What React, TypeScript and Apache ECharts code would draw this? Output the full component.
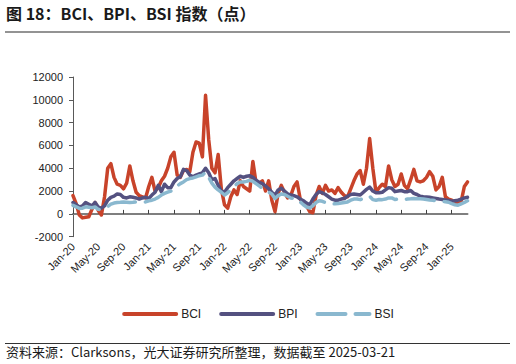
import React, { useEffect, useRef } from "react";
import * as echarts from "echarts";

const MONTHS = ["Jan", "Feb", "Mar", "Apr", "May", "Jun", "Jul", "Aug", "Sep", "Oct", "Nov", "Dec"];

// half-monthly dates from 2020-01-01 to 2025-03-16
const categories: string[] = [];
for (let i = 0; i < 126; i++) {
  const mi = Math.floor(i / 2);
  const y = 2020 + Math.floor(mi / 12);
  const m = (mi % 12) + 1;
  categories.push(`${y}-${m < 10 ? "0" + m : m}-${i % 2 ? "16" : "01"}`);
}

const bci = [
  1600, 900, -100, -350, -300, -250, 400, 1000, 300, -100,
  1500, 4000, 4400, 3200, 2600, 2500, 2200, 2700, 4200, 2900,
  1900, 1600, 1500, 1400, 2400, 3200, 2000, 2300, 2900, 3300,
  4000, 5000, 5400, 3400, 3200, 3800, 3900, 3700, 5400, 6300,
  6200, 5000, 10400, 6500, 4000, 3600, 5200, 2200, 800, 500,
  1500, 2100, 1700, 2900, 2400, 2200, 2000, 4600, 2700, 2700,
  2900, 2000, 2900, 1200, 200, 1800, 2500, 1900, 1400, 1600,
  2400, 2800, 1300, 900, 700, 200, 100, 1600, 2400, 1800,
  2500, 2000, 2100, 1800, 2300, 1900, 1600, 1500, 2200, 2900,
  3500, 3800, 2600, 4000, 6600, 4000, 1900, 2300, 2600, 2400,
  4200, 3000, 2400, 2600, 3500, 2500, 2200, 3000, 3900, 2900,
  2800, 2900, 3200, 3700, 3300, 2100, 2400, 3200, 1500, 1300,
  1200, 1000, 900, 1100, 2400, 2800,
];

const bpi = [
  1000, 800, 600, 700, 1000, 850, 700, 1000, 600, 500,
  700, 1200, 1450, 1550, 1750, 1700, 1450, 1400, 1500, 1450,
  1400, 1300, 1400, 1450, 1350, 1650, 1900, 2500, 1950, 2600,
  2300, 2300, 2800, 3100, 3250, 3900, 3800, 3400, 3250, 3400,
  3500, 3600, 4000, 3600, 3000, 3100, 2500, 2000, 1900, 2300,
  2600, 2900, 3100, 3300, 3200, 3300, 3350, 3200, 2950, 2750,
  2650, 2450, 2200, 1900, 1650, 2100, 2250, 2000, 1750, 1650,
  1600, 1500, 1300, 1150, 950, 800, 1300, 1700, 1950, 1850,
  1700, 1500, 1300, 1200, 1200, 1300, 1350, 1550, 1700, 1750,
  1700, 1650, 1900, 2150, 2350, 2000, 1850, 1850, 1900, 2100,
  2300, 2250, 1950, 2000, 2050, 1950, 1950, 2050, 1800, 1700,
  1550, 1500, 1480, 1450, 1400, 1350, 1300, 1260, 1220, 1180,
  1100, 1150, 1200, 1300, 1400, 1450,
];

const bsi = [
  750, 620, 480, 500, 620, 580, 540, 600, 400, 380,
  500, 650, 850, 950, 1000, 1020, 1050, 1030, 1000, 1020,
  1050, 1060, 1050, 1050, 1150, 1200, 1300, 1450, 1650, 1800,
  1900, 2000, 2200, 2450, 2650, 2800, 3000, 3100, 3150, 3250,
  3350, 3400, 3650, 3200, 2700, 2350, 2100, 1900, 1650, 1850,
  2100, 2400, 2650, 2800, 2800, 2850, 2950, 2850, 2650, 2450,
  2250, 2080, 1900, 1750, 1350, 1600, 1750, 1700, 1550, 1400,
  1350, 1300, 1050, 800, 600, 520, 700, 1000, 1150, 1100,
  1000, 950, 900, 880, 900, 950, 1000, 1050, 1200, 1300,
  1300, 1250, 1350, 1450, 1550, 1250, 1200, 1260, 1250, 1300,
  1400, 1400, 1260, 1300, 1320, 1280, 1300, 1320, 1350, 1330,
  1320, 1300, 1260, 1220, 1200, 1150, 1120, 1100, 1060, 1020,
  900, 800, 760, 880, 1000, 1150,
];

const TITLE = "图 18：BCI、BPI、BSI 指数（点）";
const SOURCE = "资料来源：Clarksons，光大证券研究所整理，数据截至 2025-03-21";

const CJK = '"Noto Sans CJK SC", "Noto Sans", sans-serif';
const LATIN = '"Liberation Sans", Arial, sans-serif';

export default function App() {
  const ref = useRef<HTMLDivElement>(null);
  useEffect(() => {
    if (!ref.current) return;
    const chart = echarts.init(ref.current, null, { renderer: "svg" });
    const fmt = (v: string) => {
      const [y, m] = v.split("-");
      return `${MONTHS[parseInt(m, 10) - 1]}-${y.slice(2)}`;
    };
    chart.setOption({
      animation: false,
      backgroundColor: "#ffffff",
      grid: { left: 73, right: 48.5, top: 77, bottom: 127.3 },
      legend: {
        top: 303,
        left: "center",
        itemWidth: 52,
        itemHeight: 10,
        itemGap: 18,
        textStyle: { fontFamily: LATIN, fontSize: 12, color: "#222" },
        lineStyle: { width: 4 },
        itemStyle: { opacity: 0 },
        data: ["BCI", "BPI", "BSI"],
      },
      xAxis: [
        {
          type: "category",
          data: categories,
          boundaryGap: false,
          axisLine: { show: false, onZero: false },
          axisTick: { show: false },
          axisLabel: {
            interval: 7,
            rotate: 45,
            fontFamily: LATIN,
            fontSize: 11,
            color: "#222",
            margin: 8,
            formatter: fmt,
          },
          splitLine: { show: false },
        },
        {
          type: "category",
          data: categories,
          boundaryGap: false,
          position: "bottom",
          axisLine: { show: true, onZero: true, lineStyle: { color: "#7f7f7f", width: 2 } },
          axisTick: { show: true, interval: 7, inside: true, length: 4, lineStyle: { color: "#404040", width: 1 } },
          axisLabel: { show: false },
          splitLine: { show: false },
        },
      ],
      yAxis: {
        type: "value",
        min: -2000,
        max: 12000,
        interval: 2000,
        axisLine: { show: true, lineStyle: { color: "#595959", width: 1 } },
        axisTick: { show: true, length: 4, lineStyle: { color: "#595959" } },
        axisLabel: {
          fontFamily: LATIN,
          fontSize: 11,
          color: "#222",
          margin: 10,
          formatter: (v: number) => String(v),
        },
        splitLine: { show: false },
      },
      series: [
        {
          name: "BCI",
          type: "line",
          data: bci,
          symbol: "none",
          lineStyle: { color: "#C8432A", width: 3.5, cap: "round", join: "round" },
          itemStyle: { color: "#C8432A" },
        },
        {
          name: "BPI",
          type: "line",
          data: bpi,
          symbol: "none",
          lineStyle: { color: "#545180", width: 3.5, cap: "round", join: "round" },
          itemStyle: { color: "#545180" },
        },
        {
          name: "BSI",
          type: "line",
          data: bsi,
          symbol: "none",
          lineStyle: { color: "#8AB8CF", width: 3.5, type: [28, 10], cap: "round", join: "round" },
          itemStyle: { color: "#8AB8CF" },
        },
      ],
      graphic: [
        {
          type: "text",
          left: 6,
          top: 5,
          style: { text: TITLE, font: `bold 16px ${CJK}`, fill: "#1a1a1a" },
        },
        {
          type: "line",
          shape: { x1: 5, y1: 32, x2: 510, y2: 32 },
          style: { stroke: "#6f6f6f", lineWidth: 1.5 },
        },
        {
          type: "line",
          shape: { x1: 5, y1: 343.5, x2: 510, y2: 343.5 },
          style: { stroke: "#333333", lineWidth: 1 },
        },
        {
          type: "text",
          left: 6,
          top: 345,
          style: { text: SOURCE, font: `13px ${CJK}`, fill: "#1a1a1a" },
        },
      ],
    });
    return () => chart.dispose();
  }, []);
  return (
    <div
      ref={ref}
      style={{ position: "fixed", left: 0, top: 0, width: 516, height: 364, background: "#fff" }}
    />
  );
}
